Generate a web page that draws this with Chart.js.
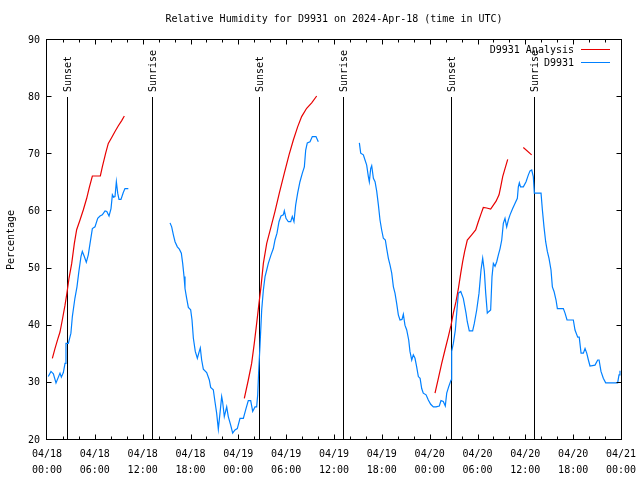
<!DOCTYPE html>
<html>
<head>
<meta charset="utf-8">
<script src="https://cdn.jsdelivr.net/npm/chart.js@4"></script>
<style>
  html, body { margin: 0; padding: 0; background: #fff; }
  #wrap { width: 640px; height: 480px; }
</style>
</head>
<body>
<div id="wrap"><canvas id="myChart" width="640" height="480"></canvas></div>
<script>
// hours since 2024-04-18 00:00 UTC; null = gap in the record
var obsHours = [0.16,0.5,0.8,1.13,1.63,1.8,2.05,2.26,2.38,2.68,3.0,3.18,3.5,3.76,4.0,4.26,4.43,4.68,4.93,5.18,5.4,5.69,6.02,6.36,6.65,6.94,7.28,7.5,7.78,8.03,8.2,8.35,8.53,8.7,8.87,9.03,9.28,9.57,9.78,10.2,
  null,
  15.43,15.64,15.85,16.06,16.35,16.6,16.85,17.02,17.19,17.31,17.52,17.73,18.02,18.19,18.36,18.6,18.86,19.1,19.23,19.4,19.61,20.03,20.36,20.53,20.86,21.07,21.28,21.49,21.7,21.91,22.03,22.24,22.54,22.74,23.04,23.29,23.58,23.87,24.21,24.63,24.96,25.25,25.55,25.8,26.09,26.3,26.43,26.55,26.72,26.93,27.14,27.35,27.56,27.76,28.1,28.39,28.6,28.85,29.1,29.35,29.64,29.77,29.98,30.27,30.57,30.77,30.98,31.19,31.44,31.73,32.03,32.28,32.45,32.65,32.99,33.28,33.74,34.03,
  null,
  39.18,39.35,39.68,39.89,40.1,40.31,40.43,40.6,40.73,40.94,41.15,41.36,41.57,41.77,41.98,42.19,42.44,42.61,42.82,43.03,43.24,43.45,43.65,43.86,44.07,44.28,44.53,44.7,44.9,45.12,45.37,45.53,45.75,45.95,46.16,46.37,46.58,46.8,47.0,47.2,47.55,47.83,48.13,48.46,48.8,49.21,49.42,49.71,49.96,50.14,50.38,50.68,50.76,50.97,51.22,51.39,51.6,51.9,52.22,52.56,52.72,52.97,53.39,53.6,53.9,54.19,54.44,54.65,54.86,55.03,55.23,55.44,55.65,55.82,55.99,56.2,56.41,56.62,56.83,57.04,57.24,57.45,57.66,57.87,58.08,58.41,58.7,59.0,59.12,59.25,59.4,59.75,60.09,60.38,60.59,60.8,61.0,61.13,61.97,62.14,62.34,62.55,62.76,62.97,63.22,63.39,63.6,63.85,64.02,64.77,64.98,65.23,66.02,66.23,66.57,66.76,66.99,67.28,67.49,67.7,67.91,68.11,68.74,69.08,69.25,69.49,69.78,70.08,71.58,71.75,71.87];
var obsValues = [31.1,32.0,31.6,30.0,31.7,31.0,31.8,33.4,36.9,36.9,38.7,41.6,44.8,46.8,49.5,52.1,53.0,52.1,51.1,52.4,54.4,57.0,57.3,58.8,59.2,59.4,60.1,60.0,59.2,60.5,62.9,62.5,62.6,65.2,63.2,62.1,62.1,63.3,64.0,64.0,
  null,
  58.0,57.3,55.9,54.7,53.8,53.4,52.7,50.9,48.6,46.5,44.8,43.2,42.8,41.0,37.8,35.5,34.3,35.5,36.1,34.0,32.4,31.8,30.5,29.2,28.8,26.7,24.7,21.9,24.7,27.6,26.7,24.1,25.8,24.1,22.6,21.2,21.75,22.0,23.8,23.8,25.5,26.9,26.9,25.0,25.8,25.8,27.9,32.0,36.6,42.75,46.25,48.6,49.75,50.9,52.4,53.5,55.0,56.2,58.2,59.2,59.4,60.1,58.8,58.2,58.2,59.1,58.2,61.1,63.2,65.2,66.7,67.8,70.75,72.0,72.2,73.1,73.1,72.2,
  null,
  72.0,70.2,69.9,69.0,68.1,66.1,65.2,67.5,68.0,65.8,65.2,63.5,61.1,58.5,56.75,55.3,55.0,53.5,51.8,50.6,49.2,46.8,45.7,43.9,41.9,41.0,41.1,42.0,40.1,39.25,37.5,35.5,34.0,34.9,34.3,32.8,31.1,30.8,29.0,28.2,27.9,27.0,26.25,25.8,25.8,25.95,26.9,26.75,25.95,28.2,29.3,30.5,35.5,36.9,39.25,42.2,45.7,46.0,44.8,42.2,40.7,39.1,39.1,40.4,42.75,45.7,49.75,51.8,49.5,45.7,42.2,42.5,42.75,48.6,50.9,50.4,51.2,52.4,53.5,55.0,57.9,58.8,57.3,58.5,59.4,60.5,61.4,62.3,64.3,65.0,64.3,64.3,65.2,66.4,67.1,67.25,66.1,63.2,63.2,60.25,57.3,54.7,53.0,51.8,49.75,46.8,46.0,44.5,43.0,43.0,42.2,41.0,41.0,39.25,38.0,38.0,35.2,35.2,36.0,35.2,34.0,32.95,33.1,34.0,34.0,32.0,30.8,30.0,30.0,31.4,32.1];

var anaHours = [0.67,1.0,1.34,1.63,1.92,2.26,2.5,2.76,3.1,3.43,3.72,4.14,4.56,4.98,5.31,5.69,6.69,6.94,7.36,7.69,8.1,8.53,8.95,9.37,9.7,
  null,
  24.75,25.25,25.67,26.0,26.3,26.59,26.84,27.14,27.56,28.1,28.6,29.14,29.77,30.36,30.9,31.44,31.94,32.57,33.2,33.83,
  null,
  48.67,49.09,49.51,49.92,50.34,50.68,50.97,51.3,51.6,51.9,52.14,52.39,52.72,53.27,53.77,54.1,54.4,54.73,55.15,55.65,55.99,56.33,56.7,56.91,57.16,57.45,57.79,
  null,
  59.75,60.79];
var anaValues = [34.3,36.0,37.6,38.9,41.0,43.6,45.7,48.3,50.9,54.4,56.8,58.5,60.3,62.3,64.2,66.2,66.2,67.8,70.2,71.9,72.9,74.0,75.0,75.9,76.7,
  null,
  27.3,30.5,33.4,36.9,40.4,43.9,46.8,50.9,54.4,57.3,60.0,63.2,66.7,69.9,72.5,74.8,76.6,78.05,79.0,80.2,
  null,
  28.2,30.8,33.4,35.75,38.1,40.1,42.2,44.2,46.5,49.2,51.2,53.0,55.0,55.9,56.75,58.2,59.4,60.7,60.6,60.4,61.1,61.8,62.9,64.3,66.1,67.5,69.1,
  null,
  71.2,69.9];

var eventHours = [2.55, 13.13, 26.63, 37.09, 50.72, 61.13];
var eventNames = ["Sunset", "Sunrise", "Sunset", "Sunrise", "Sunset", "Sunrise"];

var xTickHours = [0,6,12,18,24,30,36,42,48,54,60,66,72];
var xTickLabels = [
  ["04/18","00:00"],["04/18","06:00"],["04/18","12:00"],["04/18","18:00"],
  ["04/19","00:00"],["04/19","06:00"],["04/19","12:00"],["04/19","18:00"],
  ["04/20","00:00"],["04/20","06:00"],["04/20","12:00"],["04/20","18:00"],
  ["04/21","00:00"]
];

var chartTitle = 'Relative Humidity for D9931 on 2024-Apr-18 (time in UTC)';

var MONO = "'DejaVu Sans Mono', 'Liberation Mono', monospace";

function pairs(xs, ys) {
  return xs.map(function (x, i) { return { x: x === null ? NaN : x, y: ys[i] }; });
}

// title, frame with inward ticks, event lines and the legend, drawn through the scales
var gnuplotBits = {
  id: 'gnuplotBits',
  beforeDatasetsDraw: function (chart) {
    var c = chart.ctx, xs = chart.scales.x, ys = chart.scales.y;
    c.save();
    c.strokeStyle = '#000';
    c.lineWidth = 1;
    var top = Math.round(ys.getPixelForValue(80)), bot = Math.round(ys.getPixelForValue(20));
    eventHours.forEach(function (h, i) {
      var px = Math.round(xs.getPixelForValue(h)) + 0.5;
      c.beginPath(); c.moveTo(px, top); c.lineTo(px, bot); c.stroke();
      c.save();
      c.translate(px + 1, top - 5);
      c.rotate(-Math.PI / 2);
      c.fillStyle = '#000';
      c.font = '10px ' + MONO;
      c.textAlign = 'left';
      c.textBaseline = 'middle';
      c.fillText(eventNames[i], 0, 0);
      c.restore();
    });
    c.restore();
  },
  afterDraw: function (chart) {
    var c = chart.ctx, a = chart.chartArea, xs = chart.scales.x, ys = chart.scales.y;
    c.save();
    c.fillStyle = '#000';
    c.font = '10px ' + MONO;
    c.textAlign = 'center';
    c.textBaseline = 'middle';
    c.fillText(chartTitle, (a.left + a.right) / 2, 19);

    c.strokeStyle = '#000';
    c.lineWidth = 1;
    var L = Math.round(a.left) - 0.5, R = Math.round(a.right) + 0.5;
    var T = Math.round(a.top) - 0.5, B = Math.round(a.bottom) - 0.5;
    c.strokeRect(L, T, R - L, B - T);
    c.beginPath();
    for (var h = 2; h < 72; h += 2) {
      var px = Math.round(xs.getPixelForValue(h)) + 0.5;
      var len = (h % 6 === 0) ? 5 : 3;
      c.moveTo(px, B); c.lineTo(px, B - len);
      c.moveTo(px, T); c.lineTo(px, T + len);
    }
    for (var v = 30; v < 90; v += 10) {
      var py = Math.round(ys.getPixelForValue(v)) - 0.5;
      c.moveTo(L, py); c.lineTo(L + 5, py);
      c.moveTo(R, py); c.lineTo(R - 5, py);
    }
    c.stroke();
    // legend
    c.textAlign = 'right';
    chart.data.datasets.forEach(function (ds, i) {
      var y = a.top + 10 + i * 13;
      c.fillStyle = '#000';
      c.fillText(ds.label, a.right - 47, y);
      c.strokeStyle = ds.borderColor;
      c.beginPath(); c.moveTo(a.right - 40, y - 0.5); c.lineTo(a.right - 11, y - 0.5); c.stroke();
    });
    c.restore();
  }
};

var ctx = document.getElementById("myChart");
var myChart = new Chart(ctx, {
  type: 'scatter',
  data: {
    datasets: [{
      label: 'D9931 Analysis',
      data: pairs(anaHours, anaValues),
      showLine: true,
      spanGaps: false,
      borderColor: '#e80000',
      borderWidth: 1.2,
      pointRadius: 0
    }, {
      label: 'D9931',
      data: pairs(obsHours, obsValues),
      showLine: true,
      spanGaps: false,
      borderColor: '#0080ff',
      borderWidth: 1.2,
      pointRadius: 0
    }]
  },
  options: {
    responsive: false,
    animation: false,
    layout: { padding: { left: 0, right: 19, top: 40, bottom: 0 } },
    plugins: {
      legend: { display: false },
      tooltip: { enabled: false },
      title: { display: false }
    },
    scales: {
      x: {
        type: 'linear',
        min: 0,
        max: 72,
        afterBuildTicks: function (s) { s.ticks = xTickHours.map(function (v) { return { value: v }; }); },
        afterFit: function (s) { s.height = 40; s.paddingRight = 0; s.paddingLeft = 0; },
        grid: { display: false, drawTicks: false },
        border: { display: false },
        ticks: {
          autoSkip: false,
          maxRotation: 0,
          padding: 6,
          color: '#000',
          font: { family: MONO, size: 10, lineHeight: 1.6 },
          callback: function (v, i) { return xTickLabels[i]; }
        }
      },
      y: {
        min: 20,
        max: 90,
        afterFit: function (s) { s.width = 47; },
        grid: { display: false, drawTicks: false },
        border: { display: false },
        ticks: {
          stepSize: 10,
          padding: 7,
          color: '#000',
          font: { family: MONO, size: 10 }
        },
        title: {
          display: true,
          text: 'Percentage',
          color: '#000',
          font: { family: MONO, size: 10 },
          padding: { top: 5, bottom: 0 }
        }
      }
    }
  },
  plugins: [gnuplotBits]
});
</script>
</body>
</html>
